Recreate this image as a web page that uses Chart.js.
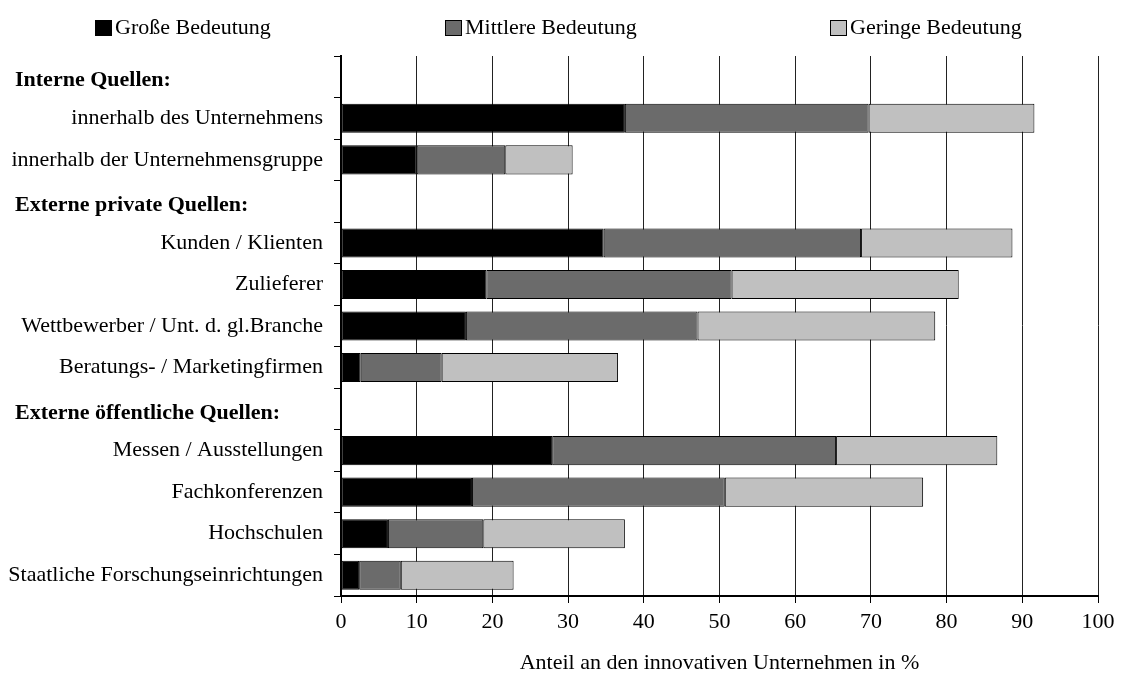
<!DOCTYPE html>
<html>
<head>
<meta charset="utf-8">
<script src="https://cdn.jsdelivr.net/npm/chart.js@4"></script>
<style>
  html, body { margin: 0; padding: 0; background: #fff; }
  #wrap { width: 1125px; height: 695px; }
</style>
</head>
<body>
<div id="wrap"><canvas id="sourcesChart"></canvas></div>
<script>
const categories = [
    'Interne Quellen:',
    'innerhalb des Unternehmens',
    'innerhalb der Unternehmensgruppe',
    'Externe private Quellen:',
    'Kunden / Klienten',
    'Zulieferer',
    'Wettbewerber / Unt. d. gl.Branche',
    'Beratungs- / Marketingfirmen',
    'Externe öffentliche Quellen:',
    'Messen / Ausstellungen',
    'Fachkonferenzen',
    'Hochschulen',
    'Staatliche Forschungseinrichtungen'
];
const headers = ['Interne Quellen:', 'Externe private Quellen:', 'Externe öffentliche Quellen:'];

const seriesNames = ['Große Bedeutung', 'Mittlere Bedeutung', 'Geringe Bedeutung'];
const grosse   = [null, 37.5, 10.0, null, 34.7, 19.2, 16.5, 2.6, null, 27.9, 17.3, 6.2, 2.4];
const mittlere = [null, 32.2, 11.7, null, 34.0, 32.4, 30.6, 10.7, null, 37.5, 33.4, 12.6, 5.5];
const geringe  = [null, 21.9, 8.9, null, 20.0, 30.0, 31.4, 23.3, null, 21.3, 26.2, 18.7, 14.9];

const xAxisTitle = 'Anteil an den innovativen Unternehmen in %';

const colors = ['#000000', '#6b6b6b', '#c0c0c0'];
const serif = "'Liberation Serif', 'Times New Roman', serif";

// bold section headers, left aligned
const headerLabels = {
    id: 'headerLabels',
    afterDraw(chart) {
        const ctx = chart.ctx;
        const y = chart.scales.y;
        ctx.save();
        ctx.font = 'bold 22px ' + serif;
        ctx.fillStyle = '#000';
        ctx.textAlign = 'left';
        ctx.textBaseline = 'middle';
        categories.forEach((c, i) => {
            if (headers.includes(c)) ctx.fillText(c, 15, y.getPixelForValue(i) + 4);
        });
        ctx.restore();
    }
};

// legend spread across the top like the original
const topLegend = {
    id: 'topLegend',
    afterDraw(chart) {
        const ctx = chart.ctx;
        const xs = [95, 445, 830];
        ctx.save();
        ctx.font = '22px ' + serif;
        ctx.textBaseline = 'middle';
        ctx.textAlign = 'left';
        chart.data.datasets.forEach((ds, i) => {
            const x = xs[i];
            ctx.fillStyle = ds.backgroundColor;
            ctx.fillRect(x + 0.5, 20.5, 16, 15);
            ctx.strokeStyle = '#000';
            ctx.lineWidth = 1;
            ctx.strokeRect(x + 0.5, 20.5, 16, 15);
            ctx.fillStyle = '#000';
            ctx.fillText(ds.label, x + 20, 28);
        });
        ctx.restore();
    }
};

new Chart(document.getElementById('sourcesChart'), {
    type: 'bar',
    data: {
        labels: categories,
        datasets: [grosse, mittlere, geringe].map((d, i) => ({
            label: seriesNames[i],
            data: d,
            backgroundColor: colors[i],
            borderColor: '#000',
            borderWidth: 1,
            borderSkipped: false,
            barPercentage: 0.7,
            categoryPercentage: 1.0
        }))
    },
    options: {
        indexAxis: 'y',
        responsive: true,
        maintainAspectRatio: false,
        animation: false,
        layout: { padding: { top: 56, right: 27, bottom: 0, left: 0 } },
        plugins: {
            legend: { display: false },
            tooltip: { enabled: false }
        },
        scales: {
            x: {
                stacked: true,
                min: 0,
                max: 100,
                ticks: {
                    stepSize: 10,
                    padding: 6,
                    color: '#000',
                    font: { family: serif, size: 22 }
                },
                grid: { color: '#222', lineWidth: 1, tickLength: 7, tickColor: '#000' },
                border: { color: '#000', width: 2 },
                title: {
                    display: true,
                    text: xAxisTitle,
                    color: '#000',
                    font: { family: serif, size: 22 },
                    padding: { top: 4, bottom: 19 }
                },
                afterFit(scale) { scale.height = 99; }
            },
            y: {
                stacked: true,
                ticks: {
                    padding: 11,
                    color: '#000',
                    font: { family: serif, size: 22 },
                    callback(value) {
                        const l = this.getLabelForValue(value);
                        return headers.includes(l) ? '' : l;
                    }
                },
                grid: { drawOnChartArea: false, tickLength: 7, color: '#000', offset: true },
                border: { color: '#000', width: 2 },
                afterFit(scale) { scale.width = 341; }
            }
        }
    },
    plugins: [headerLabels, topLegend]
});
</script>
</body>
</html>
